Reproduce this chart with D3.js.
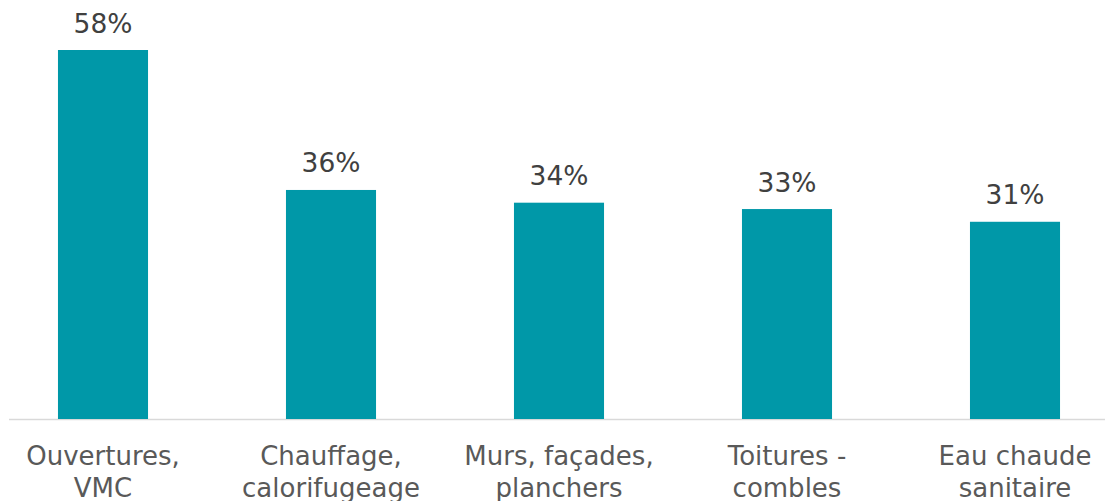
<!DOCTYPE html>
<html><head><meta charset="utf-8">
<script src="https://cdn.jsdelivr.net/npm/d3@7"></script>
<style>html,body{margin:0;padding:0;background:#fff;}svg{display:block;}</style>
</head><body>
<svg id="c" width="1105" height="501"></svg>
<script>
const categories = [["Ouvertures,","VMC"],["Chauffage,","calorifugeage"],["Murs, façades,","planchers"],["Toitures -","combles"],["Eau chaude","sanitaire"]];
const values = [58, 36, 34, 33, 31];

const svg = d3.select("#c");
const ids = categories.map((d,i)=>i);
const x = d3.scaleBand().domain(ids).range([-11, 1129]).paddingInner(0.605).paddingOuter(0.3025);
const y = d3.scaleLinear().domain([0, 58]).range([419, 50]);

svg.append("line").attr("x1", 9).attr("x2", 1105).attr("y1", 419.5).attr("y2", 419.5)
  .attr("stroke", "#d9d9d9").attr("stroke-width", 1.5);

svg.selectAll("rect.bar").data(values).enter().append("rect")
  .attr("x", (d,i)=>x(i)).attr("width", x.bandwidth())
  .attr("y", d=>y(d)).attr("height", d=>y(0)-y(d))
  .attr("fill", "#0098A8");

svg.selectAll("text.val").data(values).enter().append("text")
  .attr("x", (d,i)=>x(i)+x.bandwidth()/2).attr("y", d=>y(d)-17.5)
  .attr("text-anchor","middle").attr("font-family","DejaVu Sans, Verdana, sans-serif")
  .attr("font-size", 26.5).attr("fill","#404040").text(d=>d+"%");

const lab = svg.selectAll("text.cat").data(categories).enter().append("text")
  .attr("text-anchor","middle").attr("font-family","DejaVu Sans, Verdana, sans-serif")
  .attr("font-size", 26).attr("fill","#595959");
lab.each(function(d,i){
  const t = d3.select(this);
  d.forEach((line,j)=>{
    t.append("tspan").attr("x", x(i)+x.bandwidth()/2).attr("y", 465 + j*32).text(line);
  });
});
</script>
</body></html>
